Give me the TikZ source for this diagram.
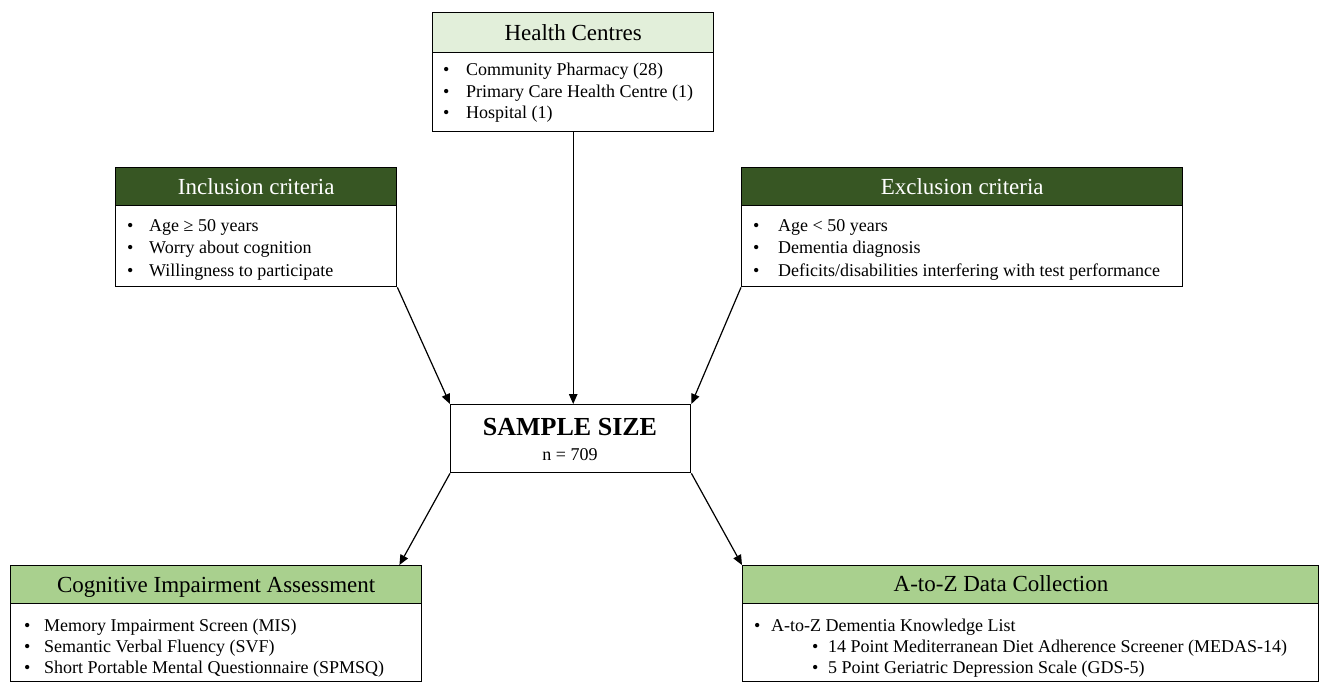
\documentclass[tikz,border=0pt]{standalone}
\usepackage{fontspec}
\setmainfont{Liberation Serif}
\usetikzlibrary{arrows.meta}
\definecolor{lightg}{HTML}{E2EFDA}
\definecolor{darkg}{HTML}{375623}
\definecolor{midg}{HTML}{A9D08E}
\tikzset{
  boxline/.style={draw=black, line width=1.4pt},
  htxt/.style={font=\fontsize{23}{27}\selectfont, text height=19pt, text depth=4pt},
  hdr/.style={boxline, htxt, anchor=north west, inner sep=0pt},
  bodyb/.style={boxline, anchor=north west, inner sep=0pt, fill=white},
  item/.style={anchor=base west, inner sep=0pt, font=\fontsize{18}{21}\selectfont},
  arr/.style={line width=1.2pt, -{Triangle[length=10pt,width=8.5pt]}},
}
\newcommand\myitem[5]{%
  \node[item] (#1-b) at (#2,#4) {•};
  \node[item] (#1) at (#3,#4) {#5};}
\begin{document}
\begin{tikzpicture}[x=1pt,y=-1pt]
\useasboundingbox (0,0) rectangle (1325,690);
% Health Centres
\node[bodyb, minimum width=281pt, minimum height=79pt] (hcb) at (432,52) {};
\node[hdr, fill=lightg, minimum width=281pt, minimum height=40pt] (hch) at (432,12) {Health Centres};
\myitem{hc1}{443}{466}{76}{Community Pharmacy (28)}
\myitem{hc2}{443}{466}{98}{Primary Care Health Centre (1)}
\myitem{hc3}{443}{466}{119}{Hospital (1)}
% Inclusion
\node[bodyb, minimum width=281pt, minimum height=81pt] (inb) at (115,205) {};
\node[hdr, fill=darkg, text=white, minimum width=281pt, minimum height=38pt] (inh) at (115,167) {Inclusion criteria};
\myitem{in1}{127}{149}{231}{Age ≥ 50 years}
\myitem{in2}{127}{149}{253}{Worry about cognition}
\myitem{in3}{127}{149}{276}{Willingness to participate}
% Exclusion
\node[bodyb, minimum width=441pt, minimum height=81pt] (exb) at (741,205) {};
\node[hdr, fill=darkg, text=white, minimum width=441pt, minimum height=38pt] (exh) at (741,167) {Exclusion criteria};
\myitem{ex1}{753}{778}{231}{Age < 50 years}
\myitem{ex2}{753}{778}{253}{Dementia diagnosis}
\myitem{ex3}{753}{778}{276}{Deficits/disabilities interfering with test performance}
% Sample size
\node[boxline, anchor=north west, minimum width=240pt, minimum height=68pt, inner sep=0pt] (ss) at (450,404) {};
\node[font=\fontsize{26}{30}\selectfont\bfseries, inner sep=0pt] (sst) at (570,427) {SAMPLE SIZE};
\node[font=\fontsize{18}{21}\selectfont, inner sep=0pt] (ssn) at (570,455) {n = 709};
% Cognitive
\node[bodyb, minimum width=411pt, minimum height=78pt] (cgb) at (10,603) {};
\node[hdr, fill=midg, minimum width=411pt, minimum height=38pt] (cgh) at (10,565) {Cognitive Impairment Assessment};
\myitem{cg1}{24}{44}{631}{Memory Impairment Screen (MIS)}
\myitem{cg2}{24}{44}{652}{Semantic Verbal Fluency (SVF)}
\myitem{cg3}{24}{44}{673}{Short Portable Mental Questionnaire (SPMSQ)}
% A-to-Z
\node[bodyb, minimum width=576pt, minimum height=78pt] (azb) at (742,603) {};
\node[hdr, fill=midg, minimum width=576pt, minimum height=38pt] (azh) at (742,565) {};
\node[htxt, inner sep=0pt] (azt) at (1001,584) {A-to-Z Data Collection};
\myitem{az1}{754}{771}{631}{A-to-Z Dementia Knowledge List}
\myitem{az2}{812}{828}{652}{14 Point Mediterranean Diet Adherence Screener (MEDAS-14)}
\myitem{az3}{812}{828}{673}{5 Point Geriatric Depression Scale (GDS-5)}
% connectors
\coordinate (cgin) at ([xshift=-23pt]cgh.north east);
\draw[arr] (hcb.south) -- (hcb.south |- ss.north);
\draw[arr] (inb.south east) -- (ss.north west);
\draw[arr] (exb.south west) -- (ss.north east);
\draw[arr] (ss.south west) -- (cgin);
\draw[arr] (ss.south east) -- (azh.north west);
\end{tikzpicture}
\end{document}
